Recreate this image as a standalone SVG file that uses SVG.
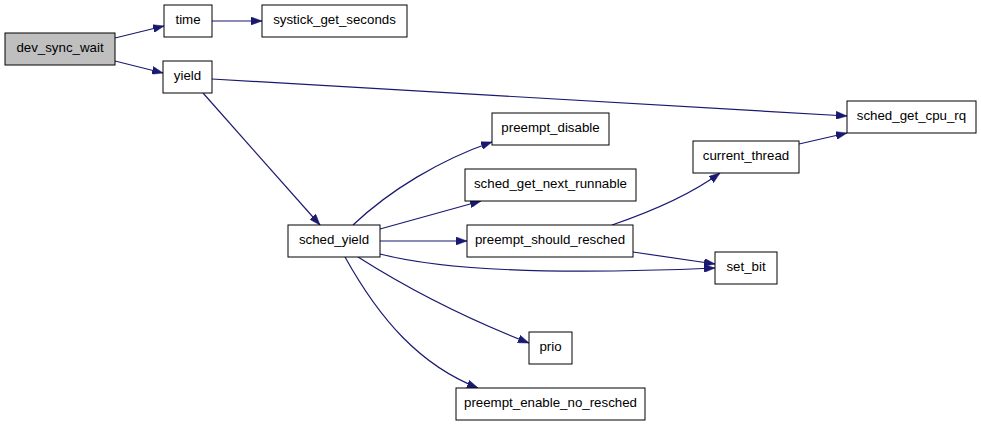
<svg xmlns="http://www.w3.org/2000/svg" width="981" height="425" viewBox="0 0 981 425">
<style>
.n rect{fill:#fff;stroke:#000;stroke-width:1}
.n text{font-family:"Liberation Sans",Arial,sans-serif;font-size:13.3px;text-anchor:middle;fill:#000}
.e path{fill:none;stroke:#191970;stroke-width:1.2;marker-end:url(#a)}
</style>
<defs>
<marker id="a" markerUnits="userSpaceOnUse" markerWidth="11" markerHeight="8" refX="11" refY="4" orient="auto">
<path d="M0,0 L11,4 L0,8 z" fill="#191970" stroke="#191970" stroke-width="0.5"/>
</marker>
</defs>
<rect width="981" height="425" fill="#fff"/>
<g class="e" id="connectors">
<path d="M115,38 L164,26"/>
<path d="M115,61 L163,73"/>
<path d="M212,21 L262,21"/>
<path d="M212,79 L847,116"/>
<path d="M203,93 L320,225"/>
<path d="M353,225 C390,190 440,160 492,142"/>
<path d="M380,229 L481,201"/>
<path d="M380,241 L467,241"/>
<path d="M612,225 C650,212 690,195 720,173"/>
<path d="M799,144 L847,133"/>
<path d="M633,252 L715,264"/>
<path d="M380,254 C460,275 600,273 715,268"/>
<path d="M358,257 C410,290 470,320 529,343"/>
<path d="M345,257 C380,320 420,365 478,388"/>
</g>
<g class="n" id="dev_sync_wait"><rect x="5" y="33" width="110" height="32" style="fill:#bfbfbf"/><text x="60" y="52">dev_sync_wait</text></g>
<g class="n" id="time"><rect x="164" y="5" width="48" height="32"/><text x="188" y="24">time</text></g>
<g class="n" id="systick_get_seconds"><rect x="262" y="5" width="145" height="32"/><text x="334.5" y="24">systick_get_seconds</text></g>
<g class="n" id="yield"><rect x="163" y="61" width="49" height="32"/><text x="187.5" y="80">yield</text></g>
<g class="n" id="sched_get_cpu_rq"><rect x="847" y="101" width="129" height="32"/><text x="911.5" y="120">sched_get_cpu_rq</text></g>
<g class="n" id="sched_yield"><rect x="288" y="225" width="92" height="32"/><text x="334" y="244">sched_yield</text></g>
<g class="n" id="preempt_disable"><rect x="492" y="113" width="117" height="32"/><text x="550.5" y="132">preempt_disable</text></g>
<g class="n" id="sched_get_next_runnable"><rect x="465" y="169" width="171" height="32"/><text x="550.5" y="188">sched_get_next_runnable</text></g>
<g class="n" id="preempt_should_resched"><rect x="467" y="225" width="166" height="32"/><text x="550" y="244">preempt_should_resched</text></g>
<g class="n" id="current_thread"><rect x="693" y="141" width="106" height="32"/><text x="746" y="160">current_thread</text></g>
<g class="n" id="set_bit"><rect x="715" y="252" width="62" height="32"/><text x="746" y="271">set_bit</text></g>
<g class="n" id="prio"><rect x="529" y="332" width="43" height="32"/><text x="550.5" y="351">prio</text></g>
<g class="n" id="preempt_enable_no_resched"><rect x="456" y="388" width="189" height="32"/><text x="550.5" y="407">preempt_enable_no_resched</text></g>
</svg>
